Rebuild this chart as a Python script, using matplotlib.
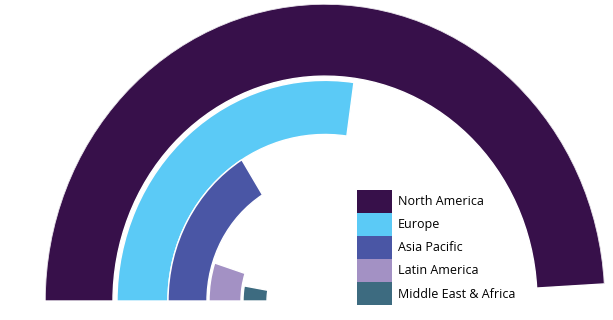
import numpy as np
import matplotlib
matplotlib.use("Agg")
import matplotlib.pyplot as plt
from matplotlib.patches import Patch

# data (arc length on a 180-unit half circle)
regions = ["North America", "Europe", "Asia Pacific", "Latin America",
           "Middle East & Africa"]
values = [176.7, 98.0, 58.0, 18.0, 10.0]
full_scale = 180.0

colors = ["#37104a", "#5bcaf6", "#4a56a5", "#a391c4", "#3d6b80"]

# ring layout (inner, outer radius) in axis units, outermost first
ring_inner = [212, 157, 118, 84, 58]
ring_outer = [280, 208, 157, 116, 82]

fig = plt.figure(figsize=(6.13, 3.2), dpi=100)
fig.patch.set_facecolor("white")

W, H = 613, 320
cx, cy = 325, 301          # centre in pixels (from top-left)
rx, ry = 280, 297
ax = fig.add_axes([(cx - rx) / W, (H - cy - ry) / H, 2 * rx / W, 2 * ry / H],
                  projection="polar")
ax.set_aspect("auto")
ax.set_theta_offset(np.pi)
ax.set_theta_direction(-1)
ax.set_ylim(0, rx)

for v, c, r0, r1 in zip(values, colors, ring_inner, ring_outer):
    ax.barh(y=r0, width=np.deg2rad(v / full_scale * 180.0), height=r1 - r0,
            left=0, align="edge", color=c, edgecolor="white", linewidth=1.0)

ax.axis("off")

handles = [Patch(facecolor=c, edgecolor="none") for c in colors]
fig.legend(handles, regions, loc="upper left",
           bbox_to_anchor=(357 / W, 1 - 190 / H), frameon=False,
           prop={"family": "Open Sans", "size": 9},
           handlelength=2.78, handleheight=2.46, handletextpad=0.5,
           labelspacing=0, borderpad=0, borderaxespad=0)

fig.savefig("out.png", dpi=100, facecolor="white")
